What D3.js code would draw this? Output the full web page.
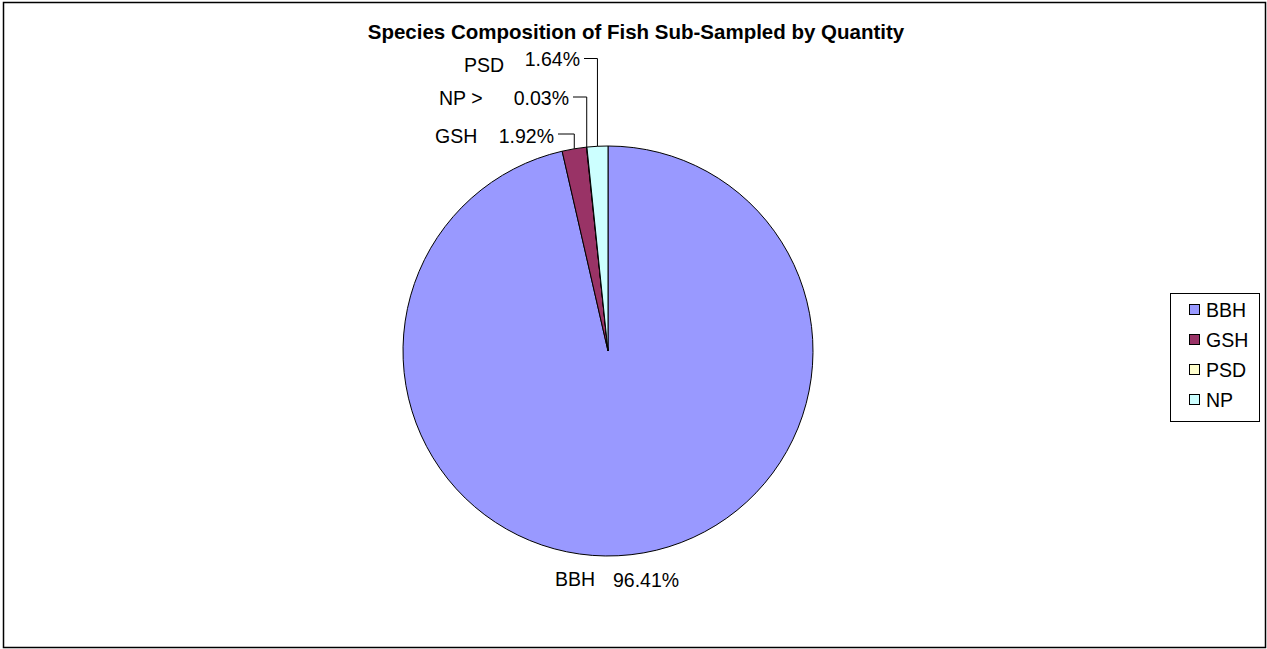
<!DOCTYPE html>
<html>
<head>
<meta charset="utf-8">
<script src="https://cdn.jsdelivr.net/npm/d3@7"></script>
<style>
  html, body { margin: 0; padding: 0; background: #fff; }
  svg { display: block; }
  text { font-family: "Liberation Sans", Arial, sans-serif; fill: #000; }
</style>
</head>
<body>
<svg id="chart" width="1267" height="649"></svg>
<script>
// Species shares (percent of fish sub-sampled), drawn clockwise from 12 o'clock
const categories = ["BBH", "GSH", "PSD", "NP"];
const shares = [96.41, 1.92, 0.03, 1.64];
const colors = ["#9999FF", "#993366", "#FFFFCC", "#CCFFFF"];
// Category text shown beside each slice's percentage label
const labelNames = ["BBH", "GSH", "NP >", "PSD"];
const title = "Species Composition of Fish Sub-Sampled by Quantity";

const W = 1267, H = 649;
const cx = 608, cy = 351, R = 205;
const fontSize = 19.5;

const svg = d3.select("#chart");

// outer frame
svg.append("rect")
  .attr("x", 3.5).attr("y", 2.5)
  .attr("width", W - 5).attr("height", H - 4)
  .attr("fill", "#fff").attr("stroke", "#000").attr("stroke-width", 1.5);

svg.append("text")
  .attr("x", 636).attr("y", 39)
  .attr("text-anchor", "middle")
  .style("font-size", "20.5px").style("font-weight", "bold")
  .text(title);

const pie = d3.pie().sort(null).startAngle(0).endAngle(2 * Math.PI);
const arcs = pie(shares);
const arc = d3.arc().innerRadius(0).outerRadius(R);

const g = svg.append("g").attr("transform", `translate(${cx},${cy})`);
g.selectAll("path.slice")
  .data(arcs)
  .join("path")
  .attr("class", "slice")
  .attr("d", arc)
  .attr("fill", (d, i) => colors[i])
  .attr("stroke", "#000")
  .attr("stroke-width", 1)
  .attr("stroke-linejoin", "round");

const fmt = v => d3.format(".2f")(v) + "%";
const midPoint = d => {
  const a = (d.startAngle + d.endAngle) / 2;
  return [Math.sin(a) * R, -Math.cos(a) * R];
};

// label layout: name x, value right edge, baseline, leader row y (page coords)
const labelLayout = [
  null,                         // BBH label sits below the pie
  { nameX: 435, valueEnd: 554, y: 143, lineY: 134 },
  { nameX: 439, valueEnd: 569, y: 105, lineY: 97 },
  { nameX: 464, valueEnd: 580, y: 72, lineY: 58.5 }
];
const valueDy = [0, 0, 0, -6];

arcs.forEach((d, i) => {
  const L = labelLayout[i];
  if (!L) return;
  const [mx, my] = midPoint(d);
  const ex = cx + mx, ey = cy + my;
  svg.append("text")
    .attr("x", L.nameX).attr("y", L.y)
    .style("font-size", fontSize + "px")
    .text(labelNames[i]);
  svg.append("text")
    .attr("x", L.valueEnd).attr("y", L.y + valueDy[i])
    .attr("text-anchor", "end")
    .style("font-size", fontSize + "px")
    .text(fmt(shares[i]));
  svg.append("path")
    .attr("d", d3.line()([[L.valueEnd + 4, L.lineY], [ex, L.lineY], [ex, ey]]))
    .attr("fill", "none").attr("stroke", "#000").attr("stroke-width", 1);
});

// BBH label under the pie
svg.append("text")
  .attr("x", 555).attr("y", 586)
  .style("font-size", fontSize + "px")
  .text(labelNames[0]);
svg.append("text")
  .attr("x", 613).attr("y", 587)
  .style("font-size", fontSize + "px")
  .text(fmt(shares[0]));

// legend
const lg = svg.append("g");
lg.append("rect")
  .attr("x", 1170.5).attr("y", 293.5)
  .attr("width", 89).attr("height", 128)
  .attr("fill", "#fff").attr("stroke", "#000").attr("stroke-width", 1);
const rows = lg.selectAll("g.item")
  .data(categories)
  .join("g")
  .attr("class", "item")
  .attr("transform", (d, i) => `translate(1189,${310 + i * 30})`);
rows.append("rect")
  .attr("x", 0.5).attr("y", -5.5)
  .attr("width", 10).attr("height", 10)
  .attr("fill", (d, i) => colors[i])
  .attr("stroke", "#000").attr("stroke-width", 1);
rows.append("text")
  .attr("x", 17).attr("y", 7)
  .style("font-size", fontSize + "px")
  .text(d => d);
</script>
</body>
</html>
